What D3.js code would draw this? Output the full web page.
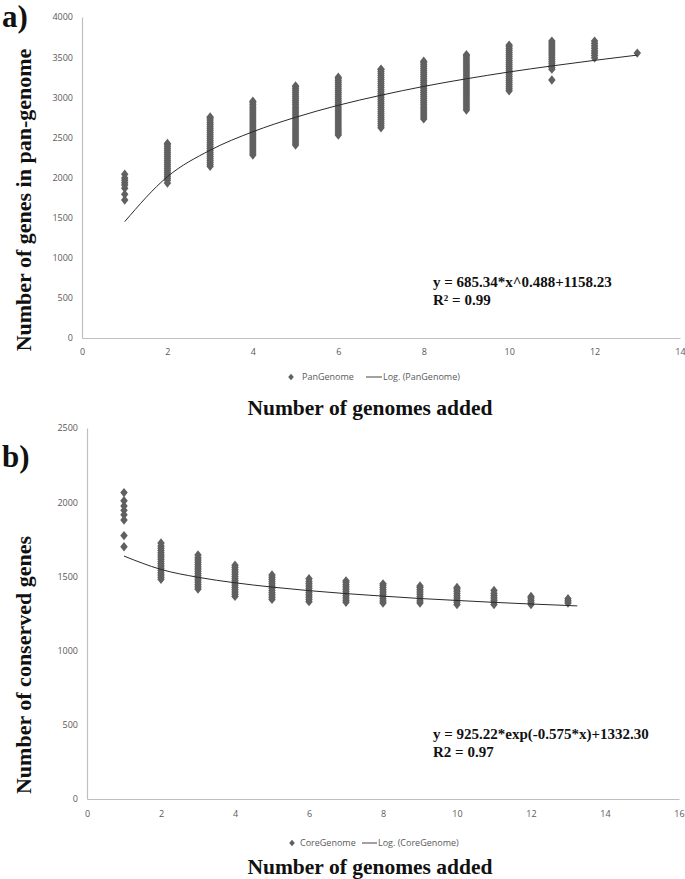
<!DOCTYPE html>
<html>
<head>
<meta charset="utf-8">
<script src="https://d3js.org/d3.v7.min.js"></script>
<style>
  body { margin: 0; background: #fff; }
</style>
</head>
<body>
<script>
// number of genomes added (x positions of the point stacks)
const genomeCounts = [1, 2, 3, 4, 5, 6, 7, 8, 9, 10, 11, 12, 13];

// pan-genome sizes observed for each genome count (one list per count)
const panValues = [
  [2040, 1995, 1965, 1935, 1905, 1865, 1790, 1720],
  [1930, 1965, 1990, 2015, 2040, 2065, 2090, 2115, 2140, 2165, 2190, 2215, 2240, 2265, 2290, 2315, 2340, 2365, 2390, 2415, 2425],
  [2140, 2165, 2190, 2215, 2240, 2265, 2290, 2315, 2340, 2365, 2390, 2415, 2440, 2465, 2490, 2515, 2540, 2565, 2590, 2615, 2640, 2665, 2690, 2715, 2740, 2755],
  [2280, 2305, 2330, 2355, 2380, 2405, 2430, 2455, 2480, 2505, 2530, 2555, 2580, 2605, 2630, 2655, 2680, 2705, 2730, 2755, 2780, 2805, 2830, 2855, 2880, 2905, 2930, 2950],
  [2405, 2430, 2455, 2480, 2505, 2530, 2555, 2580, 2605, 2630, 2655, 2680, 2705, 2730, 2755, 2780, 2805, 2830, 2855, 2880, 2905, 2930, 2955, 2980, 3005, 3030, 3055, 3080, 3105, 3130, 3140],
  [2530, 2555, 2580, 2605, 2630, 2655, 2680, 2705, 2730, 2755, 2780, 2805, 2830, 2855, 2880, 2905, 2930, 2955, 2980, 3005, 3030, 3055, 3080, 3105, 3130, 3155, 3180, 3205, 3230, 3250],
  [2620, 2645, 2670, 2695, 2720, 2745, 2770, 2795, 2820, 2845, 2870, 2895, 2920, 2945, 2970, 2995, 3020, 3045, 3070, 3095, 3120, 3145, 3170, 3195, 3220, 3245, 3270, 3295, 3320, 3345, 3350],
  [2730, 2755, 2780, 2805, 2830, 2855, 2880, 2905, 2930, 2955, 2980, 3005, 3030, 3055, 3080, 3105, 3130, 3155, 3180, 3205, 3230, 3255, 3280, 3305, 3330, 3355, 3380, 3405, 3430, 3450],
  [2840, 2865, 2890, 2915, 2940, 2965, 2990, 3015, 3040, 3065, 3090, 3115, 3140, 3165, 3190, 3215, 3240, 3265, 3290, 3315, 3340, 3365, 3390, 3415, 3440, 3465, 3490, 3515, 3530],
  [3080, 3105, 3130, 3155, 3180, 3205, 3230, 3255, 3280, 3305, 3330, 3355, 3380, 3405, 3430, 3455, 3480, 3505, 3530, 3555, 3580, 3605, 3630, 3650],
  [3215, 3350, 3375, 3400, 3425, 3450, 3475, 3500, 3525, 3550, 3575, 3600, 3625, 3650, 3675, 3700],
  [3490, 3520, 3550, 3580, 3610, 3640, 3670, 3700],
  [3550]
];

// core-genome sizes observed for each genome count
const coreValues = [
  [2065, 2010, 1975, 1945, 1915, 1880, 1775, 1700],
  [1480, 1495, 1510, 1525, 1540, 1555, 1570, 1585, 1600, 1615, 1630, 1645, 1660, 1675, 1690, 1705, 1725],
  [1415, 1430, 1445, 1460, 1475, 1490, 1505, 1520, 1535, 1550, 1565, 1580, 1595, 1610, 1625, 1645],
  [1365, 1380, 1395, 1410, 1425, 1440, 1455, 1470, 1485, 1500, 1515, 1530, 1545, 1560, 1575],
  [1345, 1360, 1375, 1390, 1405, 1420, 1435, 1450, 1465, 1480, 1495, 1510],
  [1330, 1345, 1360, 1375, 1390, 1405, 1420, 1435, 1450, 1465, 1485],
  [1325, 1340, 1355, 1370, 1385, 1400, 1415, 1430, 1445, 1460, 1470],
  [1320, 1335, 1350, 1365, 1380, 1395, 1410, 1425, 1440, 1450],
  [1320, 1335, 1350, 1365, 1380, 1395, 1410, 1425, 1435],
  [1310, 1325, 1340, 1355, 1370, 1385, 1400, 1415, 1425],
  [1310, 1325, 1340, 1355, 1370, 1385, 1405],
  [1310, 1325, 1340, 1355, 1365],
  [1320, 1335, 1350]
];

// trend lines
const panTrendX = [1, 2, 3, 4, 5, 6, 7, 8, 9, 10, 11, 12, 13];
const panTrendY = [1450, 2010, 2340, 2570, 2750, 2900, 3025, 3135, 3230, 3315, 3390, 3460, 3525];
const coreTrendX = [1, 2, 3, 4, 5, 6, 7, 8, 9, 10, 11, 12, 13, 13.25];
const coreTrendY = [1637, 1547, 1494, 1457, 1428, 1404, 1384, 1367, 1351, 1338, 1325, 1314, 1304, 1301];

// tick labels
const panXTicks = [0, 2, 4, 6, 8, 10, 12, 14];
const panYTicks = [0, 500, 1000, 1500, 2000, 2500, 3000, 3500, 4000];
const coreXTicks = [0, 2, 4, 6, 8, 10, 12, 14, 16];
const coreYTicks = [0, 500, 1000, 1500, 2000, 2500];

const W = 685, H = 879;
const markColor = "#606060";
const axisColor = "#bfbfbf";
const tickFont = "'Open Sans', sans-serif";
const titleFont = "'Liberation Serif', 'Times New Roman', serif";

const svg = d3.select("body").append("svg")
  .attr("width", W)
  .attr("height", H)
  .style("background", "#fff");

const diamond = d3.symbol().type(d3.symbolSquare).size(28);

function drawPanel(p) {
  const x = d3.scaleLinear().domain(p.xDomain).range(p.xRange);
  const y = d3.scaleLinear().domain(p.yDomain).range(p.yRange);
  const g = svg.append("g");

  // axes
  const yAxis = g.append("g")
    .attr("transform", `translate(${p.xRange[0]},0)`)
    .call(d3.axisLeft(y).tickValues(p.yTicks).tickFormat(d3.format("d")).tickSize(0).tickPadding(9));
  const xAxis = g.append("g")
    .attr("transform", `translate(0,${p.yRange[0]})`)
    .call(d3.axisBottom(x).tickValues(p.xTicks).tickFormat(d3.format("d")).tickSize(0).tickPadding(p.xPad));
  [yAxis, xAxis].forEach(a => {
    a.select(".domain").attr("stroke", axisColor).attr("stroke-width", 1.2);
    a.selectAll("text")
      .style("font-family", tickFont)
      .style("font-size", "9px")
      .attr("fill", "#595959");
  });

  // point stacks
  const pts = [];
  genomeCounts.forEach((n, i) => p.values[i].forEach(v => pts.push([n, v])));
  g.append("g").selectAll("path")
    .data(pts)
    .join("path")
    .attr("d", diamond)
    .attr("transform", d => `translate(${x(d[0])},${y(d[1])}) scale(1,1.25) rotate(45)`)
    .attr("fill", markColor);

  // trend line
  const line = d3.line()
    .x((d, i) => x(p.trendX[i]))
    .y(d => y(d))
    .curve(d3.curveMonotoneX);
  g.append("path")
    .datum(p.trendY)
    .attr("d", line)
    .attr("fill", "none")
    .attr("stroke", "#2a2a2a")
    .attr("stroke-width", 1);

  // equation
  p.equation.forEach((t, i) => {
    g.append("text")
      .attr("x", p.eqX)
      .attr("y", p.eqY + i * 18)
      .style("font-family", titleFont)
      .style("font-weight", "bold")
      .style("font-size", "15px")
      .attr("fill", "#111")
      .text(t);
  });

  // panel letter
  g.append("text")
    .attr("x", 2)
    .attr("y", p.letterY)
    .style("font-family", titleFont)
    .style("font-weight", "bold")
    .style("font-size", "31px")
    .attr("fill", "#111")
    .text(p.letter);

  // axis titles
  g.append("text")
    .attr("transform", `translate(31,${p.yTitleCenter}) rotate(-90)`)
    .attr("text-anchor", "middle")
    .style("font-family", titleFont)
    .style("font-weight", "bold")
    .style("font-size", "22px")
    .attr("fill", "#111")
    .text(p.yTitle);
  g.append("text")
    .attr("x", 370)
    .attr("y", p.xTitleY)
    .attr("text-anchor", "middle")
    .style("font-family", titleFont)
    .style("font-weight", "bold")
    .style("font-size", "21.5px")
    .attr("fill", "#111")
    .text("Number of genomes added");

  // legend
  const lg = g.append("g").attr("transform", `translate(0,${p.legendY})`);
  lg.append("path")
    .attr("d", d3.symbol().type(d3.symbolSquare).size(16))
    .attr("transform", `translate(${p.legend.mark},0) scale(1,1.15) rotate(45)`)
    .attr("fill", markColor);
  lg.append("text")
    .attr("x", p.legend.text1).attr("y", 3.2)
    .style("font-family", tickFont).style("font-size", "9px")
    .attr("fill", "#595959")
    .text(p.legend.label1);
  lg.append("line")
    .attr("x1", p.legend.line[0]).attr("x2", p.legend.line[1])
    .attr("y1", 0).attr("y2", 0)
    .attr("stroke", "#444").attr("stroke-width", 1);
  lg.append("text")
    .attr("x", p.legend.line[1] + 1).attr("y", 3.2)
    .style("font-family", tickFont).style("font-size", "9px")
    .attr("fill", "#595959")
    .text(p.legend.label2);
}

drawPanel({
  xDomain: [0, 14], xRange: [82, 680],
  yDomain: [0, 4000], yRange: [338, 17],
  xTicks: panXTicks, yTicks: panYTicks, xPad: 11,
  values: panValues, trendX: panTrendX, trendY: panTrendY,
  equation: ["y = 685.34*x^0.488+1158.23", "R\u00b2 = 0.99"], eqX: 433, eqY: 287,
  letter: "a)", letterY: 27,
  yTitle: "Number of genes in pan-genome", yTitleCenter: 200,
  xTitleY: 415,
  legendY: 377,
  legend: { mark: 291, text1: 302, line: [366, 382], label1: "PanGenome", label2: "Log. (PanGenome)" }
});

drawPanel({
  xDomain: [0, 16], xRange: [87, 679],
  yDomain: [0, 2500], yRange: [799, 428],
  xTicks: coreXTicks, yTicks: coreYTicks, xPad: 12,
  values: coreValues, trendX: coreTrendX, trendY: coreTrendY,
  equation: ["y = 925.22*exp(-0.575*x)+1332.30", "R2 = 0.97"], eqX: 433, eqY: 739,
  letter: "b)", letterY: 467,
  yTitle: "Number of conserved genes", yTitleCenter: 665,
  xTitleY: 874,
  legendY: 843,
  legend: { mark: 292, text1: 300, line: [362, 377], label1: "CoreGenome", label2: "Log. (CoreGenome)" }
});
</script>
</body>
</html>
